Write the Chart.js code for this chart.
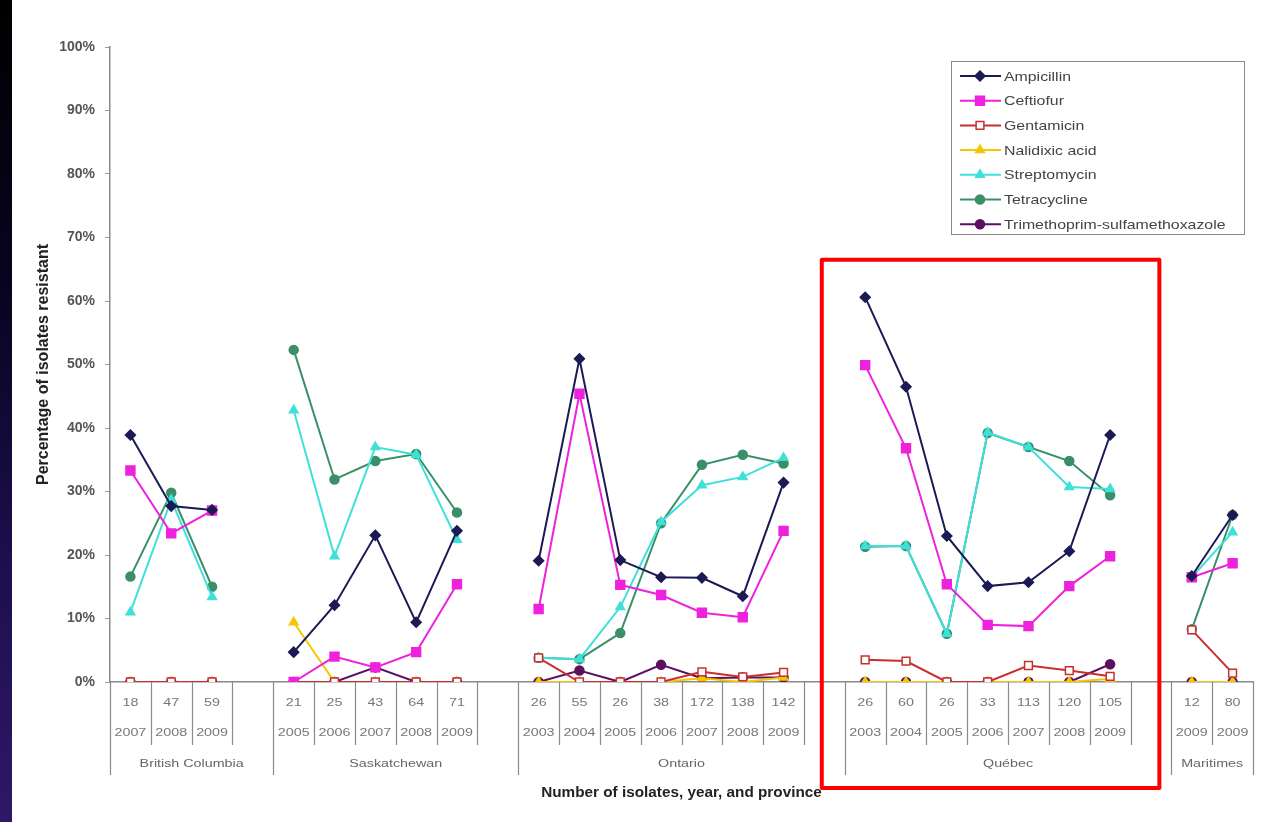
<!DOCTYPE html>
<html>
<head>
<meta charset="utf-8">
<title>Resistance by province</title>
<script src="https://cdn.jsdelivr.net/npm/chart.js@4.4.0/dist/chart.umd.min.js"></script>
<style>
  html, body { margin: 0; padding: 0; background: #fff; }
  #wrap { position: relative; width: 1269px; height: 822px; overflow: hidden; }
  #bar { position: absolute; left: 0; top: 0; width: 12px; height: 822px; z-index: 2;
         background: linear-gradient(#000 0%, #080420 35%, #1e0f50 70%, #2f1867 100%); }
  canvas { position: absolute; left: 0; top: 0; }
</style>
</head>
<body>
<div id="wrap">
  <div id="bar"></div>
  <canvas id="chart" width="1269" height="822"></canvas>
</div>
<script>
// ---- data (one slot per category, '' / null = spacer between provinces) ----
const isolateCounts = ['18', '47', '59', '',
  '21', '25', '43', '64', '71', '',
  '26', '55', '26', '38', '172', '138', '142', '',
  '26', '60', '26', '33', '113', '120', '105', '',
  '12', '80'];
const years = ['2007', '2008', '2009', '',
  '2005', '2006', '2007', '2008', '2009', '',
  '2003', '2004', '2005', '2006', '2007', '2008', '2009', '',
  '2003', '2004', '2005', '2006', '2007', '2008', '2009', '',
  '2009', '2009'];
const provinces = ['British Columbia', 'Saskatchewan', 'Ontario', 'Québec', 'Maritimes'];
const provinceSlots = [4, 6, 8, 8, 2];
const yTicks = [0, 10, 20, 30, 40, 50, 60, 70, 80, 90, 100];

const ampicillin = [38.9, 27.7, 27.1, null,
  4.7, 12.1, 23.1, 9.4, 23.8, null,
  19.1, 50.9, 19.2, 16.5, 16.4, 13.5, 31.4, null,
  60.6, 46.5, 23.0, 15.1, 15.7, 20.6, 38.9, null,
  16.7, 26.3];
const ceftiofur = [33.3, 23.4, 27.0, null,
  0, 4.0, 2.3, 4.7, 15.4, null,
  11.5, 45.4, 15.3, 13.7, 10.9, 10.2, 23.8, null,
  49.9, 36.8, 15.4, 9.0, 8.8, 15.1, 19.8, null,
  16.5, 18.7];
const gentamicin = [0, 0, 0, null,
  0, 0, 0, 0, 0, null,
  3.8, 0, 0, 0, 1.6, 0.8, 1.5, null,
  3.5, 3.3, 0, 0, 2.6, 1.8, 0.9, null,
  8.2, 1.4];
const nalidixicAcid = [0, 0, 0, null,
  9.4, 0, 0, 0, 0, null,
  0, 0, 0, 0, 0.6, 0, 0.7, null,
  0, 0, 0, 0, 0, 0, 0.5, null,
  0, 0];
const streptomycin = [11.0, 28.7, 13.4, null,
  42.8, 19.8, 37.0, 35.8, 22.4, null,
  3.8, 3.6, 11.8, 25.2, 31.0, 32.3, 35.3, null,
  21.4, 21.4, 7.6, 39.3, 37.0, 30.7, 30.4, null,
  16.5, 23.6];
const tetracycline = [16.6, 29.8, 15.0, null,
  52.3, 31.9, 34.8, 35.9, 26.7, null,
  3.8, 3.6, 7.7, 25.0, 34.2, 35.8, 34.4, null,
  21.3, 21.4, 7.6, 39.2, 37.0, 34.8, 29.4, null,
  8.3, 26.3];
const trimSulfa = [0, 0, 0, null,
  0, 0, 2.3, 0, 0, null,
  0, 1.8, 0, 2.7, 0.6, 0.7, 0.7, null,
  0, 0, 0, 0, 0, 0, 2.8, null,
  0, 0];

function series(label, data, color, style, radius, fill) {
  return {
    label: label,
    data: data,
    borderColor: color,
    backgroundColor: color,
    borderWidth: 2,
    pointStyle: style,
    pointRadius: radius,
    pointHoverRadius: radius,
    pointBackgroundColor: fill || color,
    pointBorderColor: color,
    pointBorderWidth: 1.5,
    spanGaps: false,
    tension: 0
  };
}

const datasets = [
  series('Ampicillin', ampicillin, '#1b1a55', 'rectRot', 5),
  series('Ceftiofur', ceftiofur, '#ee22dd', 'rect', 6.3),
  series('Gentamicin', gentamicin, '#c92f2f', 'rect', 5.5, '#ffffff'),
  series('Nalidixic acid', nalidixicAcid, '#f4c700', 'triangle', 5),
  series('Streptomycin', streptomycin, '#3ee0da', 'triangle', 5),
  series('Tetracycline', tetracycline, '#3a8f68', 'circle', 4.5),
  series('Trimethoprim-sulfamethoxazole', trimSulfa, '#5c1060', 'circle', 4.5)
];

function stretchText(ctx, text, x, y, sx, align) {
  ctx.save();
  ctx.translate(x, y);
  ctx.scale(sx, 1);
  ctx.textAlign = align;
  ctx.fillText(text, 0, 0);
  ctx.restore();
}

// draws the table-like category axis, the legend box and the highlight frame
const extrasPlugin = {
  id: 'extras',
  afterDraw(chart) {
    const ctx = chart.ctx;
    const xs = chart.scales.x;
    const ys = chart.scales.y;
    const n = isolateCounts.length;
    const slot = xs.getPixelForValue(1) - xs.getPixelForValue(0);
    const edge = i => (i < n ? xs.getPixelForValue(i) - slot / 2 : xs.getPixelForValue(n - 1) + slot / 2);
    const base = ys.bottom;

    const groupEdges = [0];
    provinceSlots.forEach(s => groupEdges.push(groupEdges[groupEdges.length - 1] + s));

    ctx.save();
    ctx.strokeStyle = '#8a8a8a';
    ctx.lineWidth = 1.2;
    for (let i = 0; i <= n; i++) {
      const bx = Math.round(edge(i)) + 0.5;
      const isGroup = groupEdges.includes(i);
      ctx.beginPath();
      ctx.moveTo(bx, base);
      ctx.lineTo(bx, base + (isGroup ? 93 : 63));
      ctx.stroke();
    }

    ctx.fillStyle = '#777';
    ctx.font = '11px "Liberation Sans", Arial, sans-serif';
    ctx.textBaseline = 'middle';
    for (let i = 0; i < n; i++) {
      const cx = xs.getPixelForValue(i);
      if (isolateCounts[i]) stretchText(ctx, isolateCounts[i], cx, base + 21, 1.3, 'center');
      if (years[i]) stretchText(ctx, years[i], cx, base + 51, 1.3, 'center');
    }
    ctx.fillStyle = '#666';
    provinces.forEach((p, k) => {
      const cx = (edge(groupEdges[k]) + edge(groupEdges[k + 1])) / 2;
      stretchText(ctx, p, cx, base + 82, 1.3, 'center');
    });

    // x axis title
    ctx.fillStyle = '#222';
    ctx.font = 'bold 15px "Liberation Sans", Arial, sans-serif';
    stretchText(ctx, 'Number of isolates, year, and province', (xs.left + xs.right) / 2, base + 111, 1.02, 'center');

    // legend
    const lx = xs.right - 302, ly = ys.top + 14, lw = 293, lh = 173;
    ctx.fillStyle = '#fff';
    ctx.fillRect(lx, ly, lw, lh);
    ctx.strokeStyle = '#888';
    ctx.lineWidth = 1;
    ctx.strokeRect(Math.round(lx) + 0.5, Math.round(ly) + 0.5, lw, lh);
    ctx.font = '13px "Liberation Sans", Arial, sans-serif';
    chart.data.datasets.forEach((ds, k) => {
      const ry = ly + 15 + k * 24.7;
      ctx.strokeStyle = ds.borderColor;
      ctx.lineWidth = ds.borderWidth;
      ctx.beginPath();
      ctx.moveTo(lx + 9, ry);
      ctx.lineTo(lx + 50, ry);
      ctx.stroke();
      ctx.fillStyle = ds.pointBackgroundColor;
      ctx.lineWidth = ds.pointBorderWidth;
      Chart.helpers.drawPoint(ctx, { pointStyle: ds.pointStyle, radius: ds.pointRadius, rotation: 0, borderWidth: ds.pointBorderWidth }, lx + 29, ry);
      ctx.fillStyle = '#444';
      stretchText(ctx, ds.label, lx + 53, ry + 1, 1.22, 'left');
    });

    // red highlight frame round the Québec group
    const fx0 = edge(groupEdges[3]) - 23;
    const fx1 = edge(groupEdges[4]) - 12;
    const fy0 = ys.getPixelForValue(66.5);
    const fy1 = base + 106;
    ctx.strokeStyle = '#ff0000';
    ctx.lineWidth = 4;
    ctx.lineJoin = 'round';
    ctx.strokeRect(fx0, fy0, fx1 - fx0, fy1 - fy0);
    ctx.restore();
  }
};

new Chart(document.getElementById('chart'), {
  type: 'line',
  data: { labels: isolateCounts.map((c, i) => c + ' ' + years[i]), datasets: datasets },
  options: {
    responsive: false,
    devicePixelRatio: 1,
    animation: false,
    layout: { padding: { top: 47, right: 16, bottom: 0, left: 0 } },
    plugins: { legend: { display: false }, tooltip: { enabled: false } },
    scales: {
      x: {
        type: 'category',
        offset: true,
        grid: { display: false },
        ticks: { display: false },
        border: { display: true, color: '#8a8a8a', width: 1.5 },
        afterFit(scale) { scale.height = 140; }
      },
      y: {
        min: 0,
        max: 100,
        afterBuildTicks(scale) { scale.ticks = yTicks.map(v => ({ value: v })); },
        ticks: {
          callback: v => v + '%',
          color: '#555',
          padding: 10,
          font: { family: '"Liberation Sans", Arial, sans-serif', size: 14, weight: 'bold' }
        },
        grid: { drawOnChartArea: false, drawTicks: true, tickLength: 5, color: '#999' },
        border: { display: true, color: '#8a8a8a', width: 1.5 },
        title: {
          display: true,
          text: 'Percentage of isolates resistant',
          color: '#222',
          padding: { top: 34, bottom: 0 },
          font: { family: '"Liberation Sans", Arial, sans-serif', size: 16, weight: 'bold' }
        },
        afterFit(scale) { scale.width = 110; }
      }
    }
  },
  plugins: [extrasPlugin]
});
</script>
</body>
</html>
